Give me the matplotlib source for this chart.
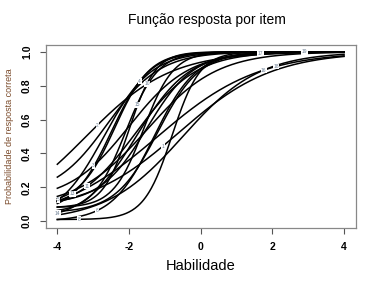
import numpy as np
import matplotlib.pyplot as plt

# 3PL item parameters: discrimination, difficulty, guessing
items = ["1", "2", "3", "4", "5", "6", "7", "8", "9", "10",
         "11", "12", "13", "14", "15", "16", "17", "18", "19"]
a_par = [0.45, 0.50, 0.70, 1.20, 0.90, 1.00, 1.40, 1.50, 0.80, 1.60,
         0.70, 0.60, 1.10, 0.80, 1.30, 0.55, 1.00, 0.42, 0.90]
b_par = [-0.6, -3.2, -2.0, -2.4, -2.7, -1.3, -1.6, -0.8, -2.6, -2.0,
         -1.8, -1.5, -2.5, -1.8, -2.1, -0.5, -1.2, -1.2, -1.5]
c_par = [0.05, 0.00, 0.12, 0.10, 0.00, 0.00, 0.08, 0.01, 0.15, 0.08,
         0.05, 0.08, 0.05, 0.00, 0.05, 0.00, 0.05, 0.00, 0.10]
# ability at which each curve's label sits (None = label hidden)
label_theta = [-1.06, -2.88, -2.99, -1.7, -3.97, -2.9, None, -3.4, None, -1.5,
               -3.16, None, -3.58, -4.0, -1.78, 1.76, 1.67, 2.1, 2.9]

theta = np.linspace(-4, 4, 300)


def icc(t, a, b, c):
    return c + (1 - c) / (1 + np.exp(-1.7 * a * (t - b)))


fig = plt.figure(figsize=(3.79, 2.85), dpi=100)
ax = fig.add_axes([0.121, 0.2, 0.817, 0.642])

for i in range(len(items)):
    ax.plot(theta, icc(theta, a_par[i], b_par[i], c_par[i]), color='black', linewidth=1.1)

for i in range(len(items)):
    if label_theta[i] is None:
        continue
    t = label_theta[i]
    p = icc(t, a_par[i], b_par[i], c_par[i])
    ax.text(t, p, items[i], fontsize=3.5, color='#6a7d92', ha='center', va='center',
            family='Liberation Sans',
            bbox=dict(facecolor='white', edgecolor='none', pad=0.3))

ax.set_xlim(-4.32, 4.32)
ax.set_ylim(-0.04, 1.04)
ax.set_xticks([-4, -2, 0, 2, 4])
ax.set_yticks([0.0, 0.2, 0.4, 0.6, 0.8, 1.0])
ax.set_xticklabels(['-4', '-2', '0', '2', '4'], fontsize=7.5, fontweight='bold', family='Liberation Sans')
ax.set_yticklabels(['0.0', '0.2', '0.4', '0.6', '0.8', '1.0'], fontsize=7.5, fontweight='bold',
                   family='Liberation Sans', rotation=90, va='center')
ax.tick_params(direction='out', length=4, width=0.8, color='#555555', pad=6)
for s in ax.spines.values():
    s.set_color('#888888')
    s.set_linewidth(0.9)

ax.set_xlabel("Habilidade", fontsize=10.5, family='Liberation Sans', labelpad=5)
ax.set_ylabel("Probabilidade de resposta correta", fontsize=6.5, color='#7a4a2a',
              family='Liberation Sans', labelpad=6)
fig.text(0.547, 0.93, "Função resposta por item", fontsize=10, ha='center', va='center',
         family='Liberation Sans')

plt.savefig("out.png", dpi=100)
